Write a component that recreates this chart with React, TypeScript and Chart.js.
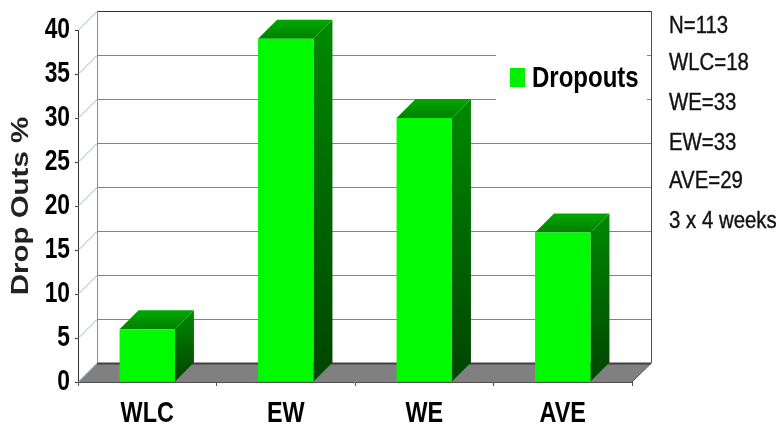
import React, { useEffect, useRef } from "react";
import { Chart, registerables } from "chart.js";

Chart.register(...registerables);

const categories = ["WLC", "EW", "WE", "AVE"];
const dropouts = [6, 39, 30, 17];
const seriesName = "Dropouts";
const yTitle = "Drop Outs %";
const notes = ["N=113", "WLC=18", "WE=33", "EW=33", "AVE=29", "3 x 4 weeks"];
const noteCentres = [26, 63, 103, 143, 181, 221];

const SANS = '"Liberation Sans", Arial, sans-serif';
const DEPTH = 19;

function squeezed(ctx: any, text: string, x: number, y: number, sx: number, align: string, weight = 0) {
  ctx.save();
  ctx.translate(x, y);
  ctx.scale(sx, 1);
  ctx.textAlign = align;
  ctx.textBaseline = "middle";
  ctx.fillText(text, 0, 0);
  if (weight > 0) {
    ctx.lineWidth = weight;
    ctx.strokeStyle = ctx.fillStyle;
    ctx.strokeText(text, 0, 0);
  }
  ctx.restore();
}

const scene = {
  id: "scene",
  beforeDatasetsDraw(chart: any) {
    const { ctx, chartArea: a, scales } = chart;
    const y = scales.y;
    ctx.save();
    // floor
    ctx.fillStyle = "#808080";
    ctx.beginPath();
    ctx.moveTo(a.left, a.bottom);
    ctx.lineTo(a.left + DEPTH, a.bottom - DEPTH);
    ctx.lineTo(a.right + DEPTH, a.bottom - DEPTH);
    ctx.lineTo(a.right, a.bottom);
    ctx.closePath();
    ctx.fill();
    // grid lines on back wall and side wall
    for (let v = 0; v <= 40; v += 5) {
      const py = Math.round(y.getPixelForValue(v)) + 0.5;
      ctx.strokeStyle = "#9fb0ba";
      ctx.lineWidth = 1;
      ctx.beginPath();
      ctx.moveTo(a.left, py);
      ctx.lineTo(a.left + DEPTH, py - DEPTH);
      ctx.stroke();
      if (v === 0) {
        ctx.strokeStyle = "#404040";
        ctx.lineWidth = 2;
      } else if (v === 40) {
        ctx.strokeStyle = "#303030";
      } else {
        ctx.strokeStyle = "#5f8fa8";
      }
      ctx.beginPath();
      ctx.moveTo(a.left + DEPTH, py - DEPTH);
      ctx.lineTo(a.right + DEPTH, py - DEPTH);
      ctx.stroke();
    }
    // wall edges
    ctx.lineWidth = 1;
    ctx.strokeStyle = "#8c8c8c";
    ctx.beginPath();
    ctx.moveTo(a.left + DEPTH + 0.5, a.top - DEPTH);
    ctx.lineTo(a.left + DEPTH + 0.5, a.bottom - DEPTH);
    ctx.stroke();
    ctx.strokeStyle = "#505050";
    ctx.beginPath();
    ctx.moveTo(a.right + DEPTH + 0.5, a.top - DEPTH);
    ctx.lineTo(a.right + DEPTH + 0.5, a.bottom - DEPTH);
    ctx.lineTo(a.right, a.bottom);
    ctx.stroke();
    // legend backdrop
    ctx.fillStyle = "#ffffff";
    ctx.fillRect(496, 40, 151, 70);
    // 3D faces of bars
    const meta = chart.getDatasetMeta(0);
    meta.data.forEach((bar: any) => {
      const half = bar.width / 2;
      const l = bar.x - half;
      const r = bar.x + half;
      const t = bar.y;
      const b = bar.base;
      const side = ctx.createLinearGradient(0, t - DEPTH, 0, b);
      side.addColorStop(0, "#008a00");
      side.addColorStop(1, "#004400");
      ctx.fillStyle = side;
      ctx.beginPath();
      ctx.moveTo(r, t);
      ctx.lineTo(r + DEPTH, t - DEPTH);
      ctx.lineTo(r + DEPTH, b - DEPTH);
      ctx.lineTo(r, b);
      ctx.closePath();
      ctx.fill();
      const top = ctx.createLinearGradient(0, t - DEPTH, 0, t);
      top.addColorStop(0, "#00a800");
      top.addColorStop(1, "#008000");
      ctx.fillStyle = top;
      ctx.beginPath();
      ctx.moveTo(l, t);
      ctx.lineTo(l + DEPTH, t - DEPTH);
      ctx.lineTo(r + DEPTH, t - DEPTH);
      ctx.lineTo(r, t);
      ctx.closePath();
      ctx.fill();
    });
    ctx.restore();
  },
  afterDraw(chart: any) {
    const { ctx, scales, chartArea: a } = chart;
    ctx.save();
    ctx.fillStyle = "#000000";
    // axis labels
    ctx.font = `bold 30px ${SANS}`;
    scales.y.ticks.forEach((t: any, i: number) => {
      squeezed(ctx, String(t.label), 70, scales.y.getPixelForTick(i), 0.76, "right");
    });
    scales.x.ticks.forEach((t: any, i: number) => {
      squeezed(ctx, String(t.label), scales.x.getPixelForTick(i), 414, 0.78, "center");
    });
    // axis title
    ctx.save();
    ctx.translate(22, (a.top + a.bottom) / 2);
    ctx.rotate(-Math.PI / 2);
    ctx.fillStyle = "#222222";
    ctx.font = `bold 23px ${SANS}`;
    squeezed(ctx, yTitle, 0, 0, 1.28, "center");
    ctx.restore();
    // legend
    ctx.fillStyle = "#00f000";
    ctx.fillRect(510, 68, 15, 19);
    ctx.fillStyle = "#000000";
    ctx.font = `bold 30px ${SANS}`;
    squeezed(ctx, chart.data.datasets[0].label, 532, 79, 0.8, "left");
    // notes
    ctx.font = `24px ${SANS}`;
    ctx.fillStyle = "#111111";
    notes.forEach((n, i) => squeezed(ctx, n, 669, noteCentres[i], 0.85, "left", 0.4));
    ctx.restore();
  },
};

export default function App() {
  const ref = useRef<HTMLCanvasElement>(null);
  useEffect(() => {
    const chart = new Chart(ref.current!, {
      type: "bar",
      data: {
        labels: categories,
        datasets: [
          {
            label: seriesName,
            data: dropouts,
            backgroundColor: "#00fa00",
            borderWidth: 0,
            barPercentage: 0.4,
            categoryPercentage: 1,
          },
        ],
      },
      options: {
        responsive: false,
        animation: false,
        layout: { padding: { top: 30, right: 147, left: 0, bottom: 0 } },
        plugins: { legend: { display: false }, tooltip: { enabled: false } },
        scales: {
          x: {
            afterFit: (s: any) => {
              s.height = 44;
            },
            border: { color: "#505050" },
            grid: { drawOnChartArea: false, tickLength: 4, color: "#505050" },
            ticks: { display: false },
          },
          y: {
            min: 0,
            max: 40,
            afterFit: (s: any) => {
              s.width = 78;
            },
            border: { color: "#303030" },
            grid: { drawOnChartArea: false, tickLength: 3, color: "#303030" },
            ticks: { stepSize: 5, display: false },
          },
        },
      },
      plugins: [scene],
    } as any);
    return () => chart.destroy();
  }, []);
  return (
    <div style={{ position: "fixed", left: 0, top: 0, width: 779, height: 426, background: "#fff" }}>
      <canvas ref={ref} width={779} height={426} style={{ display: "block" }} />
    </div>
  );
}
